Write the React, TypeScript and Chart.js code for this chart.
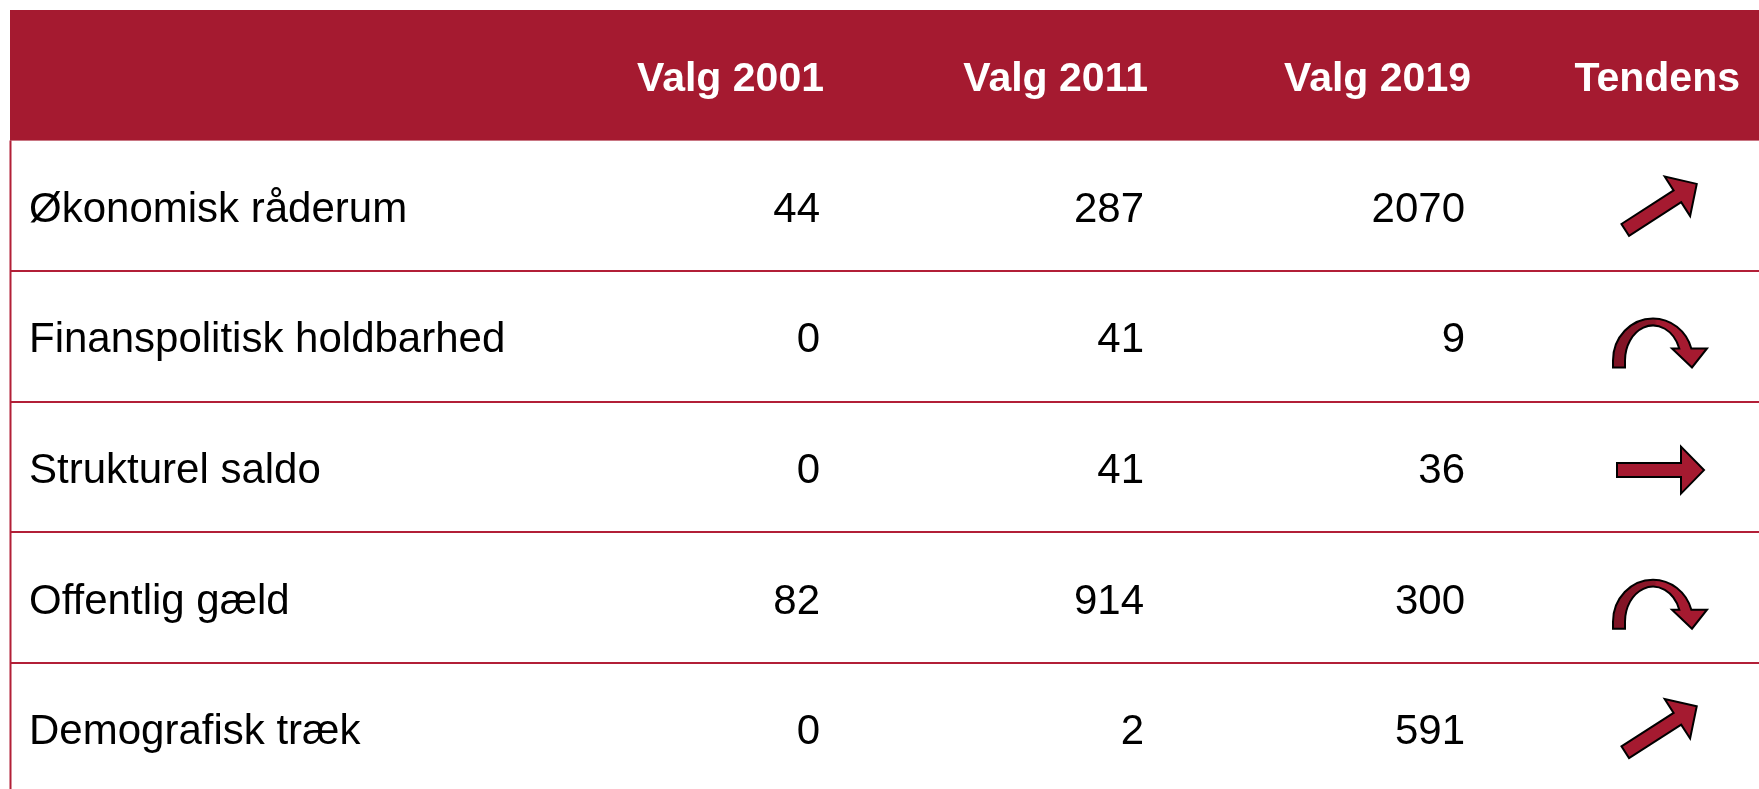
import React, { useEffect, useRef } from "react";
import { Chart, registerables } from "chart.js";

Chart.register(...registerables);

// ---------- data ----------
const columnHeaders = ["Valg 2001", "Valg 2011", "Valg 2019", "Tendens"];
const rowLabels = [
  "Økonomisk råderum",
  "Finanspolitisk holdbarhed",
  "Strukturel saldo",
  "Offentlig gæld",
  "Demografisk træk",
];
const valg2001 = [44, 0, 0, 82, 0];
const valg2011 = [287, 41, 41, 914, 2];
const valg2019 = [2070, 9, 36, 300, 591];
const tendens = ["up", "turn", "flat", "turn", "up"];

// ---------- layout (x scale = table units, y scale = row index; 0 = header) ----------
const TABLE_WIDTH = 1749;
const LABEL_LEFT = 19;
const VALUE_RIGHT = [810, 1134, 1455];
const HEADER_RIGHT = [814, 1138, 1461, 1730];
const ARROW_CENTER = 1650;
const Y_MAX = 5.465;

const HEADER_BG = "#A51A30";
const LINE_COLOR = "#B21F37";
const ARROW_FILL = "#A51A30";
const FONT = "'Liberation Sans', Arial, Helvetica, sans-serif";

function drawStraightArrow(ctx: CanvasRenderingContext2D, cx: number, cy: number, angle: number, L: number) {
  const sw = 7, hw = 23.5, hl = 23;
  ctx.save();
  ctx.translate(cx, cy);
  ctx.rotate(angle);
  ctx.beginPath();
  ctx.moveTo(-L / 2, -sw);
  ctx.lineTo(L / 2 - hl, -sw);
  ctx.lineTo(L / 2 - hl, -hw);
  ctx.lineTo(L / 2, 0);
  ctx.lineTo(L / 2 - hl, hw);
  ctx.lineTo(L / 2 - hl, sw);
  ctx.lineTo(-L / 2, sw);
  ctx.closePath();
  ctx.fillStyle = ARROW_FILL;
  ctx.fill();
  ctx.lineWidth = 2;
  ctx.lineJoin = "miter";
  ctx.strokeStyle = "#000";
  ctx.stroke();
  ctx.restore();
}

function drawCurvedArrow(ctx: CanvasRenderingContext2D, cx: number, cy: number) {
  const ox = cx - 7, oy = cy + 24;
  const rxo = 40, ryo = 42, rxi = 28, ryi = 35;
  const baseY = cy + 12, footY = cy + 31;
  const phiO = Math.asin((oy - baseY) / ryo);
  const phiI = Math.asin((oy - baseY) / ryi);
  ctx.save();
  ctx.beginPath();
  ctx.moveTo(ox - rxo, footY);
  ctx.lineTo(ox - rxo, oy);
  ctx.ellipse(ox, oy, rxo, ryo, 0, Math.PI, 2 * Math.PI - phiO, false);
  ctx.lineTo(cx + 47, baseY);
  ctx.lineTo(cx + 32, footY);
  ctx.lineTo(cx + 12, baseY);
  ctx.lineTo(ox + rxi * Math.cos(phiI), baseY);
  ctx.ellipse(ox, oy, rxi, ryi, 0, 2 * Math.PI - phiI, Math.PI, true);
  ctx.lineTo(ox - rxi, footY);
  ctx.closePath();
  const g = ctx.createLinearGradient(ox - rxo, 0, ox + 4, 0);
  g.addColorStop(0, "#7E1425");
  g.addColorStop(0.95, "#8E1729");
  g.addColorStop(1, ARROW_FILL);
  ctx.fillStyle = g;
  ctx.fill();
  ctx.lineWidth = 2;
  ctx.lineJoin = "miter";
  ctx.strokeStyle = "#000";
  ctx.stroke();
  ctx.restore();
}

const tablePlugin = {
  id: "tableCells",
  beforeDatasetsDraw(chart: any) {
    const { ctx, chartArea, scales } = chart;
    const xs = scales.x, ys = scales.y;
    const left = chartArea.left;
    const right = chart.width;
    const hTop = ys.getPixelForValue(-0.5);
    const hBot = ys.getPixelForValue(0.5);
    ctx.save();
    ctx.fillStyle = HEADER_BG;
    ctx.fillRect(left, hTop, right - left, hBot - hTop);

    ctx.strokeStyle = LINE_COLOR;
    ctx.lineWidth = 2;
    for (let i = 1; i < rowLabels.length; i++) {
      const yy = Math.round(ys.getPixelForValue(i + 0.5));
      ctx.beginPath();
      ctx.moveTo(left, yy);
      ctx.lineTo(right, yy);
      ctx.stroke();
    }
    ctx.beginPath();
    ctx.moveTo(left + 0.5, hBot);
    ctx.lineTo(left + 0.5, chart.height);
    ctx.stroke();

    ctx.fillStyle = "#FFFFFF";
    ctx.font = `bold 41px ${FONT}`;
    ctx.textAlign = "right";
    ctx.textBaseline = "alphabetic";
    columnHeaders.forEach((h, k) => {
      ctx.fillText(h, xs.getPixelForValue(HEADER_RIGHT[k]), ys.getPixelForValue(0) + 16);
    });

    ctx.fillStyle = "#000000";
    ctx.font = `42px ${FONT}`;
    ctx.textAlign = "left";
    rowLabels.forEach((lab, i) => {
      ctx.fillText(lab, xs.getPixelForValue(LABEL_LEFT), ys.getPixelForValue(i + 1) + 16);
    });
    ctx.restore();
  },
  afterDatasetsDraw(chart: any) {
    const { ctx } = chart;
    ctx.save();
    chart.data.datasets.forEach((ds: any, di: number) => {
      const meta = chart.getDatasetMeta(di);
      meta.data.forEach((el: any, i: number) => {
        const raw = ds.data[i];
        if (ds.kind === "value") {
          ctx.fillStyle = "#000000";
          ctx.font = `42px ${FONT}`;
          ctx.textAlign = "right";
          ctx.textBaseline = "alphabetic";
          ctx.fillText(String(raw.v), el.x, el.y + 16);
        } else if (ds.kind === "trend") {
          if (raw.t === "up") drawStraightArrow(ctx, el.x + 1, el.y + 1, Math.atan2(-46, 71.5), 85);
          else if (raw.t === "flat") drawStraightArrow(ctx, el.x + 0.5, el.y + 3, 0, 87);
          else drawCurvedArrow(ctx, el.x, el.y);
        }
      });
    });
    ctx.restore();
  },
};

export default function App() {
  const ref = useRef<HTMLCanvasElement | null>(null);
  useEffect(() => {
    if (!ref.current) return;
    const valueCols = [valg2001, valg2011, valg2019];
    const datasets: any[] = valueCols.map((vals, k) => ({
      label: columnHeaders[k],
      kind: "value",
      data: vals.map((v, i) => ({ x: VALUE_RIGHT[k], y: i + 1, v })),
      pointRadius: 0,
      showLine: false,
    }));
    datasets.push({
      label: columnHeaders[3],
      kind: "trend",
      data: tendens.map((t, i) => ({ x: ARROW_CENTER, y: i + 1, t })),
      pointRadius: 0,
      showLine: false,
    });
    const chart = new Chart(ref.current, {
      type: "scatter",
      data: { datasets },
      options: {
        animation: false,
        responsive: false,
        maintainAspectRatio: false,
        layout: { padding: { left: 10, top: 10, right: 0, bottom: 0 } },
        plugins: { legend: { display: false }, tooltip: { enabled: false } },
        events: [],
        scales: {
          x: { type: "linear", display: false, min: 0, max: TABLE_WIDTH },
          y: { type: "linear", display: false, min: -0.5, max: Y_MAX, reverse: true },
        },
      } as any,
      plugins: [tablePlugin],
    });
    return () => chart.destroy();
  }, []);
  return (
    <div style={{ position: "fixed", left: 0, top: 0, width: 1759, height: 789, background: "#fff" }}>
      <canvas ref={ref} width={1759} height={789} style={{ display: "block" }} />
    </div>
  );
}
